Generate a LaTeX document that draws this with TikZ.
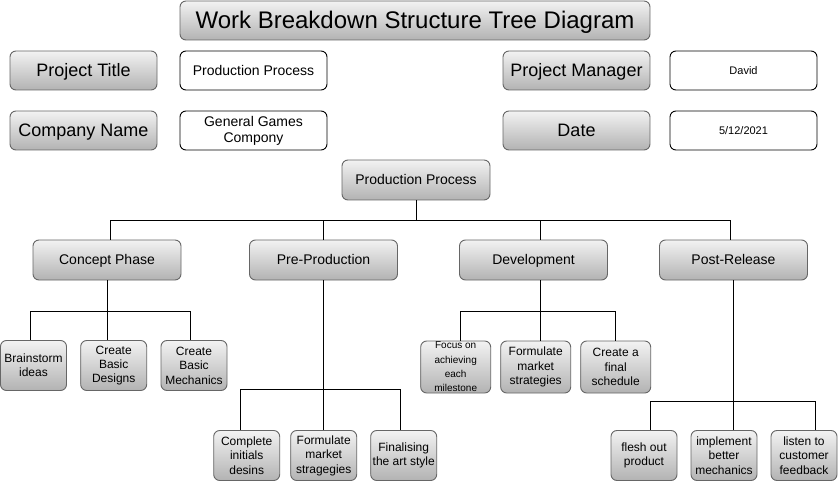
\documentclass[tikz,border=0pt]{standalone}
\usepackage{fontspec}
\setmainfont{Liberation Sans}

\begin{document}
\begin{tikzpicture}[x=1pt, y=-1pt,
        box/.style={draw=black!60, line width=0.9pt, rounded corners=6pt,
            top color=black!5, bottom color=black!30, inner sep=0pt, align=center},
        infobox/.style={draw=black, line width=0.9pt, rounded corners=6pt,
            fill=white, inner sep=0pt, align=center,
            minimum width=147pt, minimum height=39pt, font=\fontsize{14}{16}\selectfont},
        headbox/.style={box, minimum width=147pt, minimum height=39pt,
            font=\fontsize{18}{20}\selectfont, text height=16.3pt, text depth=3.8pt},
        phasebox/.style={box, minimum width=148pt, minimum height=40pt,
            font=\fontsize{14}{16}\selectfont, text height=12.7pt, text depth=3pt},
        leafbox/.style={box, minimum width=66pt, minimum height=50pt,
            font=\fontsize{12}{14.4}\selectfont},
        link/.style={draw=black, line width=0.9pt}]
        \useasboundingbox (0,0) rectangle (838,481);

        % header
        \node[box, minimum width=470pt, minimum height=39pt,
            font=\fontsize{24}{26}\selectfont, text height=21.7pt, text depth=5.1pt] (title) at (415,20.5)
            {Work Breakdown Structure Tree Diagram};
        \node[headbox] (ptitle) at (83.5,70.5) {Project Title};
        \node[infobox] (ptitlev) at (253.5,70.5) {Production Process};
        \node[headbox] (cname) at (83.5,130.5) {Company Name};
        \node[infobox] (cnamev) at (253.5,130.5) {General Games\\Compony};
        \node[headbox] (pman) at (576.5,70.5) {Project Manager};
        \node[infobox, font=\fontsize{11}{13}\selectfont] (pmanv) at (743.5,70.5) {David};
        \node[headbox] (date) at (576.5,130.5) {Date};
        \node[infobox, font=\fontsize{11}{13}\selectfont] (datev) at (743.5,130.5) {5/12/2021};

        % tree
        \node[phasebox] (root) at (416,180) {Production Process};
        \node[phasebox] (concept) at (107,260) {Concept Phase};
        \node[phasebox] (preprod) at (323.5,260) {Pre-Production};
        \node[phasebox] (devel) at (533.5,260) {Development};
        \node[phasebox] (release) at (733.5,260) {Post-Release};

        \node[leafbox] (brain) at (33.5,365.5) {Brainstorm\\ideas};
        \node[leafbox] (designs) at (113.7,365.5) {Create\\Basic\\Designs};
        \node[leafbox] (mechs) at (194,365.5) {Create\\Basic\\Mechanics};

        \node[leafbox] (initial) at (246.7,455.5) {Complete\\initials\\desins};
        \node[leafbox] (market) at (323.7,455.5) {Formulate\\market\\stragegies};
        \node[leafbox] (artstyle) at (403.7,455.5) {Finalising\\the art style};

        \node[leafbox, minimum width=70pt, minimum height=52pt,
            font=\fontsize{10}{14.4}\selectfont] (focus) at (455.7,367)
            {Focus on\\achieving\\each\\milestone};
        \node[leafbox, minimum width=70pt, minimum height=52pt] (strat) at (535.7,367)
            {Formulate\\market\\strategies};
        \node[leafbox, minimum width=70pt, minimum height=52pt] (sched) at (615.7,367)
            {Create a\\final\\schedule};

        \node[leafbox] (flesh) at (644,455.5) {flesh out\\product};
        \node[leafbox] (better) at (724,455.5) {implement\\better\\mechanics};
        \node[leafbox] (listen) at (804,455.5) {listen to\\customer\\feedback};

        % connectors
        \draw[link] (root.south) -- ++(0,20) -| ([xshift=3pt]concept.north);
        \draw[link] (root.south) ++(0,20) -| (preprod.north);
        \draw[link] (root.south) ++(0,20) -| ([xshift=7pt]devel.north);
        \draw[link] (root.south) ++(0,20) -| ([xshift=-3.5pt]release.north);

        \draw[link] (concept.south) -- (concept.south |- designs.north);
        \draw[link] (concept.south) ++(0,31) -| ([xshift=-3pt]brain.north);
        \draw[link] (concept.south) ++(0,31) -| ([xshift=-3.3pt]mechs.north);

        \draw[link] (preprod.south) -- (preprod.south |- market.north);
        \draw[link] (preprod.south) ++(0,109) -| ([xshift=-6.7pt]initial.north);
        \draw[link] (preprod.south) ++(0,109) -| ([xshift=-3pt]artstyle.north);

        \draw[link] ([xshift=7pt]devel.south) -- ++(0,31) -| ([xshift=5pt]focus.north);
        \draw[link] ([xshift=7pt]devel.south) ++(0,31) -| ([xshift=4.3pt]strat.north);
        \draw[link] ([xshift=7pt]devel.south) ++(0,31) -| (sched.north);

        \draw[link] (release.south) -- ++(0,121) -| ([xshift=6pt]flesh.north);
        \draw[link] (release.south) ++(0,121) -| ([xshift=9pt]better.north);
        \draw[link] (release.south) ++(0,121) -| ([xshift=11pt]listen.north);
\end{tikzpicture}
\end{document}
